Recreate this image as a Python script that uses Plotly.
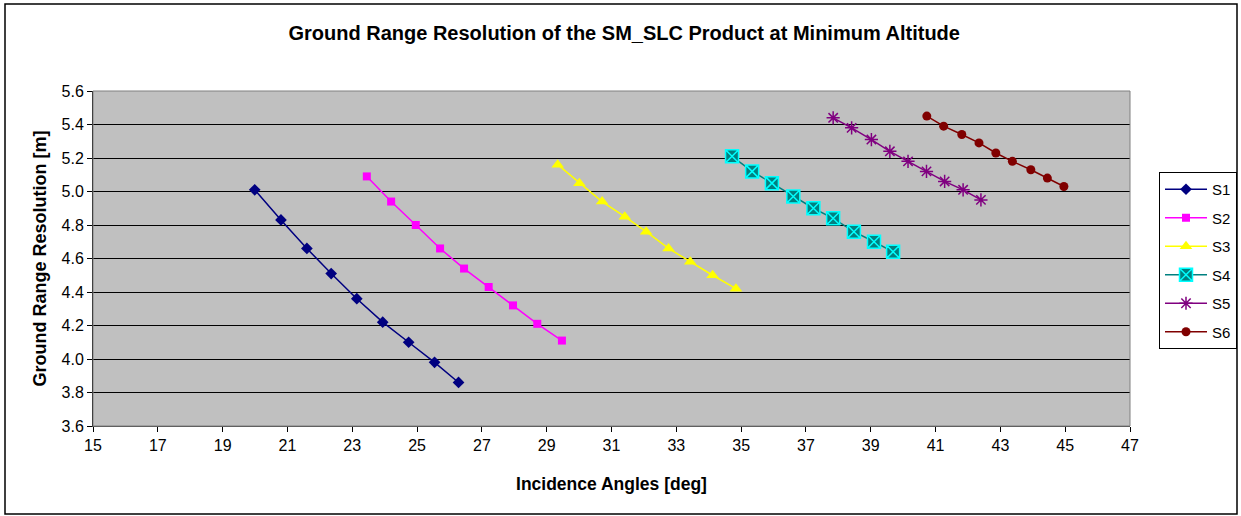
import plotly.graph_objects as go

# ---- data ----
series_names = ["S1", "S2", "S3", "S4", "S5", "S6"]

s1_x = [19.99, 20.80, 21.60, 22.35, 23.14, 23.94, 24.74, 25.54, 26.28]
s1_y = [5.01, 4.83, 4.66, 4.51, 4.36, 4.22, 4.10, 3.98, 3.86]

s2_x = [23.45, 24.20, 24.96, 25.71, 26.45, 27.21, 27.96, 28.71, 29.47]
s2_y = [5.09, 4.94, 4.80, 4.66, 4.54, 4.43, 4.32, 4.21, 4.11]

s3_x = [29.34, 30.01, 30.71, 31.41, 32.07, 32.76, 33.43, 34.12, 34.84]
s3_y = [5.16, 5.05, 4.94, 4.85, 4.76, 4.66, 4.58, 4.50, 4.42]

s4_x = [34.72, 35.34, 35.95, 36.61, 37.23, 37.84, 38.48, 39.10, 39.69]
s4_y = [5.21, 5.12, 5.05, 4.97, 4.90, 4.84, 4.76, 4.70, 4.64]

s5_x = [37.84, 38.41, 39.02, 39.59, 40.15, 40.72, 41.28, 41.85, 42.40]
s5_y = [5.44, 5.38, 5.31, 5.24, 5.18, 5.12, 5.06, 5.01, 4.95]

s6_x = [40.73, 41.25, 41.81, 42.34, 42.86, 43.37, 43.94, 44.45, 44.96]
s6_y = [5.45, 5.39, 5.34, 5.29, 5.23, 5.18, 5.13, 5.08, 5.03]

x_ticks = list(range(15, 48, 2))
y_ticks = [3.6, 3.8, 4.0, 4.2, 4.4, 4.6, 4.8, 5.0, 5.2, 5.4, 5.6]

# ---- styles ----
styles = [
    dict(line=dict(color="#000080", width=1.5),
         marker=dict(symbol="diamond", size=9, color="#000080")),
    dict(line=dict(color="#FF00FF", width=1.5),
         marker=dict(symbol="square", size=8, color="#FF00FF")),
    dict(line=dict(color="#FFFF00", width=1.5),
         marker=dict(symbol="triangle-up", size=11, color="#FFFF00")),
    dict(line=dict(color="#008080", width=1.5),
         marker=dict(symbol="square-x", size=13, color="#008080",
                     line=dict(color="#00FFFF", width=1.5))),
    dict(line=dict(color="#800080", width=1.5),
         marker=dict(symbol="asterisk-open", size=11, color="#800080",
                     line=dict(color="#800080", width=1.5))),
    dict(line=dict(color="#800000", width=1.5),
         marker=dict(symbol="circle", size=9, color="#800000")),
]

xs = [s1_x, s2_x, s3_x, s4_x, s5_x, s6_x]
ys = [s1_y, s2_y, s3_y, s4_y, s5_y, s6_y]

fig = go.Figure()
for name, x, y, st in zip(series_names, xs, ys, styles):
    fig.add_trace(go.Scatter(x=x, y=y, name=name, mode="lines+markers",
                             legendgroup=name, **st))

FONT = "Liberation Sans, Arial, sans-serif"

fig.update_layout(
    width=1241, height=516,
    margin=dict(l=93, r=111, t=91, b=90, autoexpand=False),
    paper_bgcolor="white",
    plot_bgcolor="#C0C0C0",
    font=dict(family=FONT, size=16, color="black"),
    title=dict(text="<b>Ground Range Resolution of the SM_SLC Product at Minimum Altitude</b>",
               x=0.503, xref="container", y=1 - 33 / 516, yref="container",
               xanchor="center", yanchor="middle",
               font=dict(family=FONT, size=20, color="black")),
    legend=dict(x=(1159 - 93) / 1037, y=(426 - 172) / 335, xanchor="left", yanchor="top",
                bgcolor="white", bordercolor="black", borderwidth=1,
                font=dict(family=FONT, size=15, color="black"),
                tracegroupgap=6, itemwidth=42),
    showlegend=True,
)

fig.update_xaxes(
    range=[15, 47], tickvals=x_ticks, ticks="outside", ticklen=5, tickcolor="black",
    showgrid=False, zeroline=False, showline=True, linecolor="#404040", linewidth=1,
    tickfont=dict(family=FONT, size=16, color="black"),
    title=dict(text="<b>Incidence Angles [deg]</b>", standoff=24,
               font=dict(family=FONT, size=17.5, color="black")),
)
fig.update_yaxes(
    range=[3.6, 5.6], tickvals=y_ticks, tickformat=".1f", ticks="outside", ticklen=5,
    tickcolor="black", showgrid=True, gridcolor="black", gridwidth=1, zeroline=False,
    showline=True, linecolor="black", linewidth=1,
    tickfont=dict(family=FONT, size=16, color="black"),
    title=dict(text="<b>Ground Range Resolution [m]</b>", standoff=10,
               font=dict(family=FONT, size=18, color="black")),
)

# plot-area border (gray) and outer chart border
fig.add_shape(type="rect", xref="paper", yref="paper", x0=0, x1=1, y0=0, y1=1,
              line=dict(color="#808080", width=1), layer="above")
fig.add_shape(type="rect", xref="paper", yref="paper",
              x0=(5 - 93) / 1037, x1=(1237 - 93) / 1037,
              y0=(426 - 514) / 335, y1=(426 - 4) / 335,
              line=dict(color="black", width=1.5))

fig.write_html("out.html")
